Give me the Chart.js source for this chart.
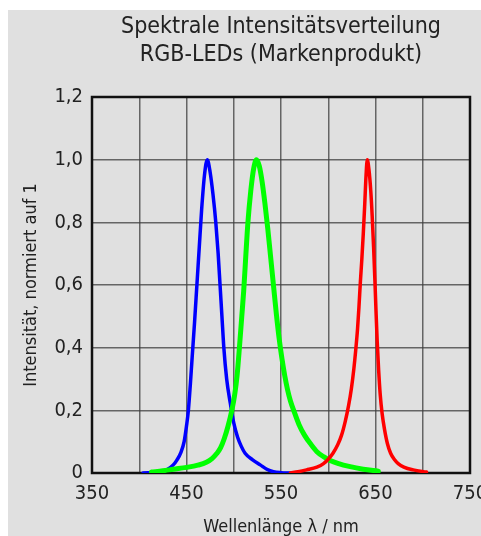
<!DOCTYPE html>
<html lang="de">
<head>
    <meta charset="UTF-8">
    <title>Spektrale Intensitätsverteilung RGB-LEDs</title>
    <script src="https://cdn.jsdelivr.net/npm/chart.js"></script>
    <style>
        html, body { margin: 0; padding: 0; background: #fff; }
        #wrap { position: relative; width: 481px; height: 536px; }
    </style>
</head>
<body>
    <div id="wrap"><canvas id="chart" width="481" height="536"></canvas></div>

    <script>
        // Titel und Achsen
        const titleLines = ['Spektrale Intensitätsverteilung', 'RGB-LEDs (Markenprodukt)'];
        const xTitle = 'Wellenlänge λ / nm';
        const yTitle = 'Intensität, normiert auf 1';
        const xLabels = [350, 450, 550, 650, 750];
        const yLabels = ['0', '0,2', '0,4', '0,6', '0,8', '1,0', '1,2'];

        // Messwerte [Wellenlänge nm, Intensität]
        const blueLed = [
            [404, 0], [420, 0.003], [430, 0.012], [436, 0.026], [440, 0.042], [444, 0.065],
            [447.5, 0.1], [450, 0.15], [452, 0.2], [454, 0.28], [456, 0.37], [458.5, 0.48],
            [461, 0.6], [463.5, 0.72], [466, 0.84], [469, 0.95], [472, 1.0], [475, 0.96],
            [478, 0.89], [481, 0.8], [483.5, 0.7], [485.5, 0.6], [487.5, 0.5], [489.5, 0.4],
            [492.5, 0.3], [496.5, 0.22], [500, 0.16], [504, 0.115], [508, 0.085], [512, 0.063],
            [520, 0.042], [528, 0.026], [535, 0.012], [542, 0.004], [550, 0.001], [560, 0]
        ];
        const greenLed = [
            [413, 0.003], [425, 0.007], [436, 0.012], [450, 0.018], [462, 0.025], [471, 0.034],
            [477, 0.046], [482, 0.062], [486, 0.08], [490, 0.11], [494, 0.15], [498, 0.2],
            [501, 0.25], [503.5, 0.31], [506, 0.4], [508.5, 0.5], [510.5, 0.58], [512.5, 0.68],
            [515, 0.8], [518, 0.9], [521, 0.97], [524, 1.0], [527, 0.98], [530, 0.93],
            [533, 0.86], [536, 0.78], [539, 0.69], [542, 0.6], [545, 0.51], [548, 0.43],
            [551, 0.365], [554, 0.31], [557, 0.265], [560, 0.23], [564, 0.195], [569, 0.155],
            [575, 0.12], [582, 0.09], [588, 0.068], [595, 0.052], [602, 0.04], [611, 0.03],
            [622, 0.021], [637, 0.012], [653, 0.006]
        ];
        const redLed = [
            [560, 0], [568, 0.004], [577, 0.01], [588, 0.019], [595, 0.03], [600, 0.044],
            [605, 0.063], [610, 0.09], [614, 0.12], [618, 0.165], [621.5, 0.215], [624.5, 0.27],
            [627, 0.33], [629, 0.39], [631, 0.46], [632.5, 0.53], [634, 0.61], [635.5, 0.68],
            [637, 0.76], [638.5, 0.85], [640, 0.95], [641.3, 1.0], [643, 0.97], [645, 0.9],
            [646.5, 0.82], [648, 0.72], [649.3, 0.62], [650.5, 0.52], [651.8, 0.42], [653.3, 0.33],
            [655, 0.25], [657, 0.19], [659.5, 0.14], [662.5, 0.095], [666, 0.063], [670, 0.043],
            [674, 0.03], [680, 0.019], [690, 0.01], [704, 0.003]
        ];

        const FONT = "'Liberation Sans Narrow', 'DejaVu Sans Condensed', sans-serif";
        const toPts = arr => arr.map(p => ({ x: p[0], y: p[1] }));

        // grauer Hintergrund + Rahmen um die Zeichenfläche (Kurven liegen darüber)
        const frame = {
            id: 'frame',
            beforeDraw(chart) {
                const ctx = chart.ctx;
                ctx.save();
                ctx.fillStyle = '#fff';
                ctx.fillRect(0, 0, chart.width, chart.height);
                ctx.fillStyle = '#e0e0e0';
                ctx.fillRect(8, 10, chart.width - 8, chart.height - 10);
                ctx.restore();
            },
            beforeDatasetsDraw(chart) {
                const a = chart.chartArea;
                const ctx = chart.ctx;
                ctx.save();
                ctx.strokeStyle = '#111';
                ctx.lineWidth = 2.5;
                ctx.strokeRect(a.left, a.top, a.right - a.left, a.bottom - a.top);
                ctx.restore();
            }
        };

        const ds = (label, data, color, width, order) => ({
            label: label,
            data: toPts(data),
            borderColor: color,
            borderWidth: width,
            pointRadius: 0,
            fill: false,
            cubicInterpolationMode: 'monotone',
            borderJoinStyle: 'round',
            borderCapStyle: 'round',
            order: order
        });

        new Chart(document.getElementById('chart'), {
            type: 'line',
            data: {
                datasets: [
                    ds('blau', blueLed, '#0000ff', 3.5, 2),
                    ds('grün', greenLed, '#00ff00', 5, 1),
                    ds('rot', redLed, '#ff0000', 3.5, 0)
                ]
            },
            options: {
                responsive: false,
                animation: false,
                layout: { padding: { left: 0, right: 11, top: 0, bottom: 0 } },
                plugins: {
                    legend: { display: false },
                    tooltip: { enabled: false },
                    title: {
                        display: true,
                        text: titleLines,
                        fullSize: false,
                        color: '#222',
                        font: { family: FONT, size: 23, weight: 'normal', lineHeight: 28 / 23 },
                        padding: { top: 13, bottom: 28 }
                    }
                },
                scales: {
                    x: {
                        type: 'linear',
                        min: 350,
                        max: 750,
                        grid: { color: 'rgba(60,60,60,0.75)', lineWidth: 1.5, drawTicks: false },
                        border: { display: false },
                        ticks: {
                            stepSize: 50,
                            autoSkip: false,
                            maxRotation: 0,
                            padding: 9,
                            color: '#222',
                            font: { family: FONT, size: 20 },
                            callback: v => xLabels.includes(v) ? String(v) : ''
                        },
                        title: {
                            display: true,
                            text: xTitle,
                            color: '#222',
                            font: { family: FONT, size: 18, lineHeight: 1 },
                            padding: 0
                        },
                        afterFit: s => { s.height = 63; s.paddingLeft = 0; s.paddingRight = 0; }
                    },
                    y: {
                        min: 0,
                        max: 1.2,
                        grid: { color: 'rgba(60,60,60,0.75)', lineWidth: 1.5, drawTicks: false },
                        border: { display: false },
                        ticks: {
                            stepSize: 0.2,
                            padding: 9,
                            color: '#222',
                            font: { family: FONT, size: 20 },
                            callback: v => yLabels[Math.round(v * 5)]
                        },
                        title: {
                            display: true,
                            text: yTitle,
                            color: '#222',
                            font: { family: FONT, size: 18, lineHeight: 1.2 },
                            padding: { top: 21, bottom: 0 }
                        },
                        afterFit: s => { s.width = 92; s.paddingTop = 0; s.paddingBottom = 0; }
                    }
                }
            },
            plugins: [frame]
        });
    </script>
</body>
</html>
